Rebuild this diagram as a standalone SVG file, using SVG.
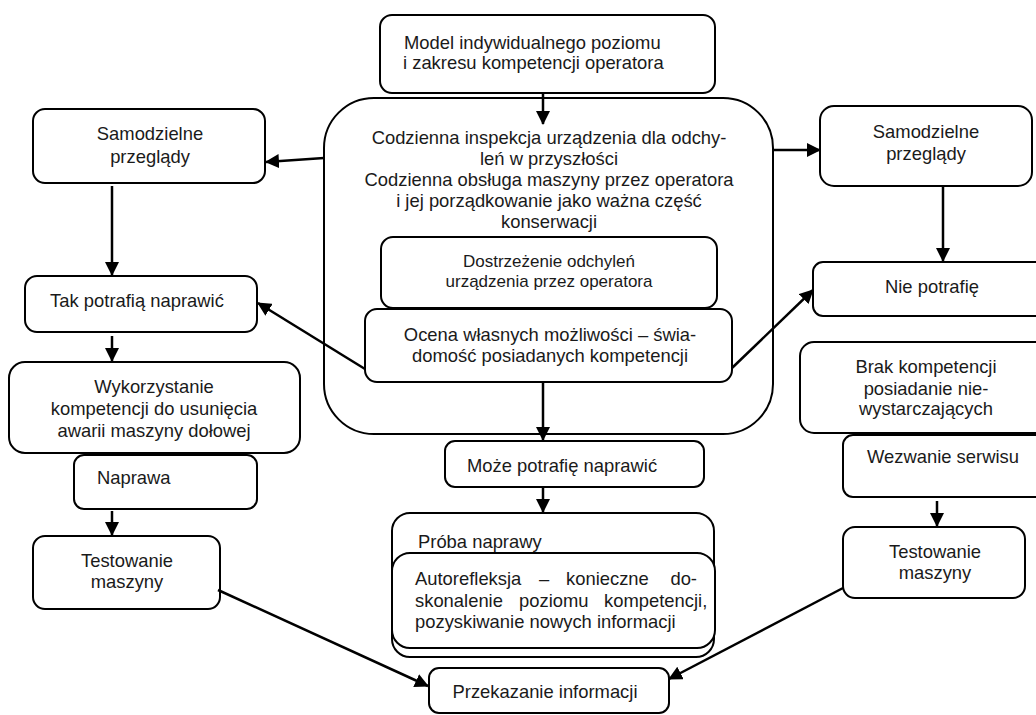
<svg xmlns="http://www.w3.org/2000/svg" width="1036" height="715" viewBox="0 0 1036 715">
<style>
.b{fill:#fff;stroke:#000;stroke-width:2}
.t{font-family:"Liberation Sans",Arial,sans-serif;font-size:18.4px;fill:#1a1a1a}
.m{text-anchor:middle}
.s{font-size:17px}
.c{fill:none;stroke:#000;stroke-width:2.5}
</style>
<defs>
<marker id="a" viewBox="0 0 14 14" refX="13" refY="7" markerWidth="14" markerHeight="14" markerUnits="userSpaceOnUse" orient="auto">
<path d="M0,0 L14,7 L0,14 z" fill="#000"/>
</marker>
</defs>
<rect width="1036" height="715" fill="#fff"/>

<g id="model">
<rect class="b" x="380" y="15" width="335" height="78" rx="12"/>
<text class="t" x="404" y="49">Model indywidualnego poziomu</text>
<text class="t" x="403" y="69">i zakresu kompetencji operatora</text>
</g>

<g id="codzienna">
<rect class="b" x="324" y="98" width="449" height="336" rx="50"/>
<text class="t m" x="549" y="144">Codzienna inspekcja urządzenia dla odchy-</text>
<text class="t m" x="549" y="165">leń w przyszłości</text>
<text class="t m" x="549" y="186">Codzienna obsługa maszyny przez operatora</text>
<text class="t m" x="549" y="207">i jej porządkowanie jako ważna część</text>
<text class="t m" x="549" y="228">konserwacji</text>
</g>

<g id="dostrzezenie">
<rect class="b" x="381" y="237" width="336" height="71" rx="12"/>
<text class="t m s" x="549" y="267">Dostrzeżenie odchyleń</text>
<text class="t m s" x="549" y="287">urządzenia przez operatora</text>
</g>

<g id="ocena">
<rect class="b" x="365" y="309" width="367" height="73" rx="12"/>
<text class="t m" x="550" y="341">Ocena własnych możliwości – świa-</text>
<text class="t m" x="550" y="362">domość posiadanych kompetencji</text>
</g>

<g id="samodzielne-l">
<rect class="b" x="33" y="109" width="232" height="74" rx="12"/>
<text class="t m" x="150" y="140">Samodzielne</text>
<text class="t m" x="150" y="163">przeglądy</text>
</g>

<g id="tak">
<rect class="b" x="25" y="276" width="232" height="56" rx="12"/>
<text class="t m" x="137" y="307">Tak potrafią naprawić</text>
</g>

<g id="wykorzystanie">
<rect class="b" x="9" y="362" width="291" height="91" rx="16"/>
<text class="t m" x="154" y="393">Wykorzystanie</text>
<text class="t m" x="154" y="415">kompetencji do usunięcia</text>
<text class="t m" x="154" y="437">awarii maszyny dołowej</text>
</g>

<g id="naprawa">
<rect class="b" x="74" y="455" width="183" height="54" rx="10"/>
<text class="t" x="97" y="484">Naprawa</text>
</g>

<g id="testowanie-l">
<rect class="b" x="33" y="536" width="187" height="73" rx="12"/>
<text class="t m" x="127" y="567">Testowanie</text>
<text class="t m" x="127" y="588">maszyny</text>
</g>

<g id="moze">
<rect class="b" x="445" y="441" width="259" height="46" rx="10"/>
<text class="t" x="467" y="472">Może potrafię naprawić</text>
</g>

<g id="proba">
<rect class="b" x="392" y="513" width="322" height="144" rx="18"/>
<text class="t" x="418" y="548">Próba naprawy</text>
</g>

<g id="autorefleksja">
<rect class="b" x="392" y="553" width="323" height="95" rx="18"/>
<text class="t" y="585"><tspan x="415">Autorefleksja</tspan><tspan x="539">–</tspan><tspan x="566">konieczne</tspan></text>
<text class="t" x="697" y="585" text-anchor="end">do-</text>
<text class="t" y="607"><tspan x="415">skonalenie</tspan><tspan x="519">poziomu</tspan><tspan x="604">kompetencji,</tspan></text>
<text class="t" x="415" y="628">pozyskiwanie nowych informacji</text>
</g>

<g id="przekazanie">
<rect class="b" x="429" y="668" width="240" height="45" rx="10"/>
<text class="t m" x="545" y="698">Przekazanie informacji</text>
</g>

<g id="samodzielne-r">
<rect class="b" x="820" y="106" width="212" height="80" rx="14"/>
<text class="t m" x="926" y="138">Samodzielne</text>
<text class="t m" x="926" y="160">przeglądy</text>
</g>

<g id="nie">
<rect class="b" x="813" y="262" width="250" height="54" rx="10"/>
<text class="t m" x="932" y="293">Nie potrafię</text>
</g>

<g id="brak">
<rect class="b" x="800" y="342" width="260" height="91" rx="14"/>
<text class="t m" x="926" y="373">Brak kompetencji</text>
<text class="t m" x="926" y="395">posiadanie nie-</text>
<text class="t m" x="926" y="415">wystarczających</text>
</g>

<g id="wezwanie">
<rect class="b" x="843" y="435" width="220" height="62" rx="10"/>
<text class="t m" x="943" y="463">Wezwanie serwisu</text>
</g>

<g id="testowanie-r">
<rect class="b" x="843" y="527" width="182" height="71" rx="12"/>
<text class="t m" x="935" y="558">Testowanie</text>
<text class="t m" x="935" y="579">maszyny</text>
</g>

<g id="connectors">
<line class="c" x1="543" y1="94" x2="543" y2="124" marker-end="url(#a)"/>
<line class="c" x1="324" y1="158" x2="266" y2="162" marker-end="url(#a)"/>
<line class="c" x1="773" y1="150" x2="820" y2="150" marker-end="url(#a)"/>
<line class="c" x1="112" y1="186" x2="112" y2="275" marker-end="url(#a)"/>
<line class="c" x1="365" y1="369" x2="258" y2="303" marker-end="url(#a)"/>
<line class="c" x1="112" y1="336" x2="112" y2="361" marker-end="url(#a)"/>
<line class="c" x1="112" y1="511" x2="112" y2="535" marker-end="url(#a)"/>
<line class="c" x1="218" y1="590" x2="428" y2="686" marker-end="url(#a)"/>
<line class="c" x1="943" y1="186" x2="943" y2="261" marker-end="url(#a)"/>
<line class="c" x1="732" y1="368" x2="813" y2="290" marker-end="url(#a)"/>
<line class="c" x1="543" y1="383" x2="543" y2="440" marker-end="url(#a)"/>
<line class="c" x1="543" y1="488" x2="543" y2="512" marker-end="url(#a)"/>
<line class="c" x1="937" y1="501" x2="937" y2="526" marker-end="url(#a)"/>
<line class="c" x1="843" y1="588" x2="669" y2="679" marker-end="url(#a)"/>
</g>
</svg>
